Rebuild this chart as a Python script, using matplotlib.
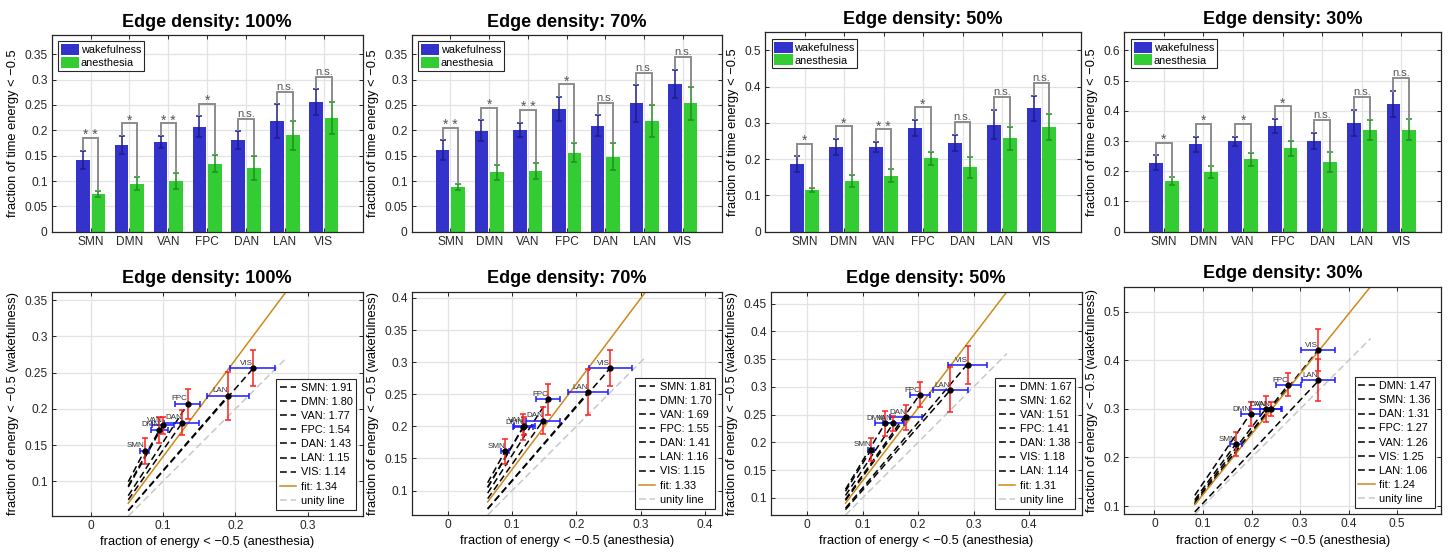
import numpy as np
import matplotlib
matplotlib.use("Agg")
import matplotlib.pyplot as plt
from matplotlib.ticker import FuncFormatter

plt.rcParams['font.family'] = ['Liberation Sans', 'DejaVu Sans']
plt.rcParams['axes.edgecolor'] = '#262626'
plt.rcParams['xtick.color'] = '#262626'
plt.rcParams['ytick.color'] = '#262626'

networks = ['SMN', 'DMN', 'VAN', 'FPC', 'DAN', 'LAN', 'VIS']
densities = ['100%', '70%', '50%', '30%']

# fraction of time with energy < -0.5, mean and SEM across subjects
wake_100 = [0.142, 0.171, 0.177, 0.207, 0.181, 0.218, 0.256]
wake_err_100 = [0.018, 0.018, 0.012, 0.021, 0.017, 0.033, 0.025]
anes_100 = [0.0745, 0.095, 0.100, 0.134, 0.126, 0.190, 0.224]
anes_err_100 = [0.006, 0.012, 0.015, 0.017, 0.024, 0.029, 0.031]

wake_70 = [0.161, 0.199, 0.201, 0.242, 0.209, 0.253, 0.291]
wake_err_70 = [0.019, 0.021, 0.014, 0.024, 0.021, 0.036, 0.028]
anes_70 = [0.089, 0.117, 0.119, 0.156, 0.148, 0.218, 0.253]
anes_err_70 = [0.006, 0.015, 0.016, 0.019, 0.027, 0.031, 0.033]

wake_50 = [0.187, 0.234, 0.234, 0.286, 0.245, 0.295, 0.340]
wake_err_50 = [0.021, 0.022, 0.013, 0.022, 0.022, 0.040, 0.034]
anes_50 = [0.115, 0.140, 0.155, 0.203, 0.178, 0.258, 0.289]
anes_err_50 = [0.005, 0.017, 0.019, 0.018, 0.029, 0.032, 0.036]

wake_30 = [0.228, 0.290, 0.300, 0.350, 0.300, 0.359, 0.422]
wake_err_30 = [0.025, 0.025, 0.015, 0.024, 0.027, 0.043, 0.043]
anes_30 = [0.168, 0.198, 0.239, 0.276, 0.230, 0.337, 0.337]
anes_err_30 = [0.012, 0.019, 0.022, 0.025, 0.033, 0.034, 0.035]

# significance of wake vs anesthesia per network
sig_100 = ['**', '*', '**', '*', 'n.s.', 'n.s.', 'n.s.']
sig_70 = ['**', '*', '**', '*', 'n.s.', 'n.s.', 'n.s.']
sig_50 = ['*', '*', '**', '*', 'n.s.', 'n.s.', 'n.s.']
sig_30 = ['*', '*', '*', '*', 'n.s.', 'n.s.', 'n.s.']

# per-network slopes (wake / anesthesia) and pooled fit slope
slope_100 = [1.91, 1.80, 1.77, 1.54, 1.43, 1.15, 1.14]
slope_70 = [1.81, 1.70, 1.69, 1.55, 1.41, 1.16, 1.15]
slope_50 = [1.62, 1.67, 1.51, 1.41, 1.38, 1.14, 1.18]
slope_30 = [1.36, 1.47, 1.26, 1.27, 1.31, 1.06, 1.25]
fit_slope = [1.34, 1.33, 1.31, 1.24]

# x-range over which the slope lines are drawn
line_range = [(0.052, 0.27), (0.062, 0.308), (0.069, 0.36), (0.083, 0.445)]

# bar chart y-axis
bar_ymax = [0.388, 0.388, 0.55, 0.66]
bar_ystep = [0.05, 0.05, 0.1, 0.1]
# scatter y tick steps
sc_ystep = [0.05, 0.05, 0.05, 0.1]

panels = [
    dict(wake=wake_100, we=wake_err_100, anes=anes_100, ae=anes_err_100, sig=sig_100, slope=slope_100),
    dict(wake=wake_70, we=wake_err_70, anes=anes_70, ae=anes_err_70, sig=sig_70, slope=slope_70),
    dict(wake=wake_50, we=wake_err_50, anes=anes_50, ae=anes_err_50, sig=sig_50, slope=slope_50),
    dict(wake=wake_30, we=wake_err_30, anes=anes_30, ae=anes_err_30, sig=sig_30, slope=slope_30),
]

W, H = 1450, 552
fig = plt.figure(figsize=(W / 100, H / 100), dpi=100)

# axes boxes in pixels: left, right, top, bottom
top_boxes = [(51.7, 362.7, 35, 231.7), (411.7, 721.7, 35, 231.7),
             (765, 1081, 32.3, 231.7), (1124.3, 1441, 32.3, 231.7)]
bot_boxes = [(51.7, 362.7, 291.7, 516), (411.7, 721.7, 291.7, 515),
             (770.7, 1081.7, 291.7, 515), (1124.3, 1441, 286.7, 514.3)]


def add_ax(box):
    l, r, t, b = box
    return fig.add_axes([l / W, 1 - b / H, (r - l) / W, (b - t) / H])


fmt = FuncFormatter(lambda v, p: ('%g' % round(v, 4)))

C_WAKE = '#3333cc'
C_ANES = '#33cc33'
C_WAKE_ERR = '#1c1c8c'
C_ANES_ERR = '#1f8f1f'
GRID = '#e3e3e3'
TICK_FS = 8.6
LABEL_FS = 9.3


def style(ax):
    ax.tick_params(direction='in', length=3, width=0.7, top=True, right=True,
                   labelsize=TICK_FS, pad=3)
    for s in ax.spines.values():
        s.set_linewidth(0.9)
    ax.grid(True, color=GRID, lw=0.9)
    ax.set_axisbelow(True)


x = np.arange(1, len(networks) + 1)
bw = 0.35
off = 0.2

for i, (p, dens) in enumerate(zip(panels, densities)):
    # ---- bar chart ----
    ax = add_ax(top_boxes[i])
    style(ax)
    ax.bar(x - off, p['wake'], bw, color=C_WAKE, label='wakefulness', zorder=2)
    ax.bar(x + off, p['anes'], bw, color=C_ANES, label='anesthesia', zorder=2)
    ax.errorbar(x - off, p['wake'], yerr=p['we'], fmt='none', ecolor=C_WAKE_ERR,
                elinewidth=1.1, capsize=2.5, capthick=1.1, zorder=3)
    ax.errorbar(x + off, p['anes'], yerr=p['ae'], fmt='none', ecolor=C_ANES_ERR,
                elinewidth=1.1, capsize=2.5, capthick=1.1, zorder=3)
    ymax = bar_ymax[i]
    gap = 0.064 * ymax
    for k in range(len(networks)):
        wt = p['wake'][k] + p['we'][k]
        at = p['anes'][k] + p['ae'][k]
        yb = max(wt, at) + gap
        xl, xr = x[k] - off, x[k] + off
        ax.plot([xl, xl, xr, xr], [wt + 0.002, yb, yb, at + 0.002], color='#8c8c8c',
                lw=1.4, zorder=4, solid_joinstyle='miter')
        s = p['sig'][k]
        if s == 'n.s.':
            ax.text(x[k], yb, s, ha='center', va='bottom', fontsize=8, color='#555555', zorder=5)
        else:
            ax.text(x[k], yb - 0.022 * ymax, ' '.join(s), ha='center', va='bottom',
                    fontsize=10, color='#555555', zorder=5)
    ax.set_xlim(0, 8)
    ax.set_ylim(0, ymax)
    ax.set_xticks(x)
    ax.set_xticklabels(networks)
    ax.set_yticks(np.arange(0, ymax - 1e-9, bar_ystep[i]))
    ax.yaxis.set_major_formatter(fmt)
    ax.set_ylabel('fraction of time energy < \u22120.5', fontsize=LABEL_FS, labelpad=4)
    ax.set_title('Edge density: ' + dens, fontsize=13, fontweight='bold', pad=6)
    leg = ax.legend(loc='upper left', fontsize=7.8, frameon=True, fancybox=False,
                    edgecolor='#262626', framealpha=1, handlelength=1.7, handleheight=1.2,
                    handletextpad=0.15, borderpad=0.25, labelspacing=0.15, borderaxespad=0.6)
    leg.get_frame().set_linewidth(0.8)

    # ---- scatter of wake vs anesthesia ----
    ax2 = add_ax(bot_boxes[i])
    style(ax2)
    lo, hi = line_range[i]
    fs = fit_slope[i]
    order = np.argsort(p['slope'])[::-1]
    handles = []
    for k in order:
        sl = p['slope'][k]
        xe = p['anes'][k]
        h, = ax2.plot([lo, xe], [sl * lo, sl * xe], ls=(0, (4.5, 2.5)), color='black', lw=1.1,
                      label='%s: %.2f' % (networks[k], sl), zorder=2)
        handles.append(h)
    hf, = ax2.plot([lo, hi], [fs * lo, fs * hi], color='#cc8a1a', lw=1.1,
                   label='fit: %.2f' % fs, zorder=2)
    hu, = ax2.plot([lo, hi], [lo, hi], ls=(0, (4.5, 2.5)), color='#c8c8c8', lw=1.1,
                   label='unity line', zorder=1.5)
    handles += [hf, hu]
    ax2.errorbar(p['anes'], p['wake'], xerr=p['ae'], fmt='none', ecolor='#1a1aff',
                 elinewidth=1.1, capsize=2, capthick=1.1, zorder=3)
    ax2.errorbar(p['anes'], p['wake'], yerr=p['we'], fmt='none', ecolor='#ff2020',
                 elinewidth=1.1, capsize=2, capthick=1.1, zorder=3)
    ax2.plot(p['anes'], p['wake'], 'o', color='black', ms=3.5, zorder=4)
    for k in range(len(networks)):
        ax2.text(p['anes'][k], p['wake'][k] + 0.002, networks[k], ha='right', va='bottom',
                 fontsize=5.8, color='#333333', zorder=5)
    # equal data aspect, y limits tight on the lines
    y0, y1 = lo, fs * hi
    l, r, t, b = bot_boxes[i]
    half = (y1 - y0) * (r - l) / (b - t) / 2
    xc = (lo + hi) / 2
    ax2.set_xlim(xc - half, xc + half)
    ax2.set_ylim(y0, y1)
    ax2.set_xticks(np.arange(0, xc + half, 0.1))
    ax2.set_yticks(np.arange(0.1, y1, sc_ystep[i]))
    ax2.xaxis.set_major_formatter(fmt)
    ax2.yaxis.set_major_formatter(fmt)
    ax2.set_xlabel('fraction of energy < \u22120.5 (anesthesia)', fontsize=LABEL_FS, labelpad=3)
    ax2.set_ylabel('fraction of energy < \u22120.5 (wakefulness)', fontsize=LABEL_FS, labelpad=4)
    ax2.set_title('Edge density: ' + dens, fontsize=13, fontweight='bold', pad=6)
    leg2 = ax2.legend(handles=handles, loc='lower right', fontsize=7.8, frameon=True,
                      fancybox=False, edgecolor='#262626', framealpha=1, handlelength=1.5,
                      handletextpad=0.4, borderpad=0.35, labelspacing=0.38, borderaxespad=0.6)
    leg2.get_frame().set_linewidth(0.8)

fig.savefig('out.png', dpi=100)
